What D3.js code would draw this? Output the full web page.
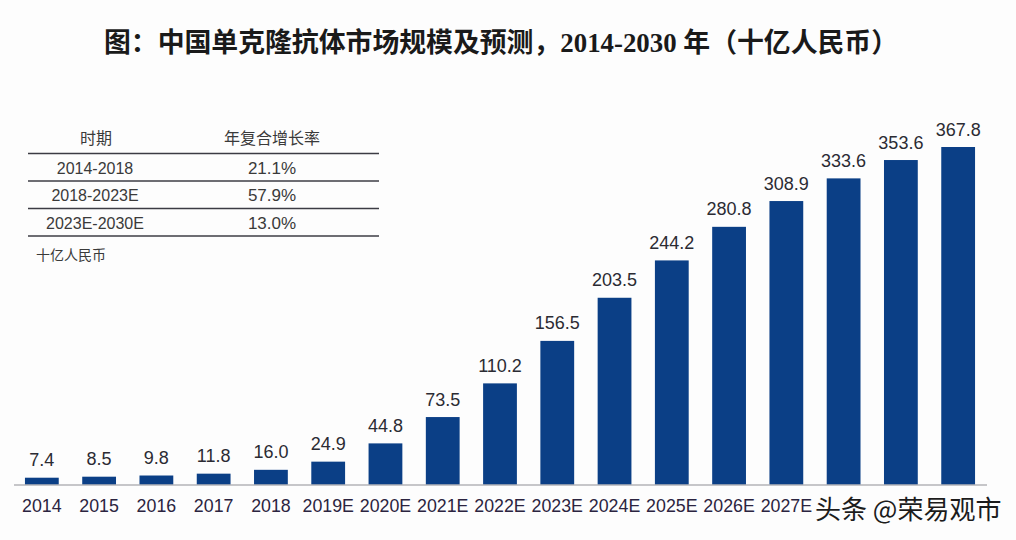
<!DOCTYPE html>
<html><head><meta charset="utf-8">
<script src="https://cdn.jsdelivr.net/npm/d3@7/dist/d3.min.js"></script>
<style>html,body{margin:0;background:#fdfdfd}svg{display:block}</style>
</head><body><svg id="c" width="1016" height="540"></svg>
<script>
const categories=["2014","2015","2016","2017","2018","2019E","2020E","2021E","2022E","2023E","2024E","2025E","2026E","2027E","2028E","2029E","2030E"];
const visibleTicks=["2014","2015","2016","2017","2018","2019E","2020E","2021E","2022E","2023E","2024E","2025E","2026E","2027E"];
const values=[7.4,8.5,9.8,11.8,16.0,24.9,44.8,73.5,110.2,156.5,203.5,244.2,280.8,308.9,333.6,353.6,367.8];
const valueLabels=["7.4","8.5","9.8","11.8","16.0","24.9","44.8","73.5","110.2","156.5","203.5","244.2","280.8","308.9","333.6","353.6","367.8"];
const tableHead=["时期","年复合增长率"];
const tablePeriods=["2014-2018","2018-2023E","2023E-2030E"];
const tableRates=["21.1%","57.9%","13.0%"];
const titleText="图：中国单克隆抗体市场规模及预测，2014-2030 年（十亿人民币）";
const unitText="十亿人民币";
const watermark="头条 @荣易观市";

const svg=d3.select("#c");
const sans="'Liberation Sans','Noto Sans CJK SC',sans-serif";
const x=d3.scaleBand().domain(categories).range([13.5,986.5]).paddingInner(0.41).paddingOuter(0.2);
const y=d3.scaleLinear().domain([0,367.8]).range([484.5,147]);

svg.append("text").attr("x",501).attr("y",52).attr("text-anchor","middle")
 .attr("font-family","'Liberation Serif','Noto Sans CJK SC',serif").attr("font-weight",700)
 .attr("font-size",26.85).attr("fill","#1a1a1a").text(titleText);

svg.append("g").selectAll("rect").data(values).join("rect")
 .attr("x",(d,i)=>x(categories[i])).attr("width",x.bandwidth())
 .attr("y",d=>y(d)).attr("height",d=>y(0)-y(d)).attr("fill","#0b3f86");

svg.append("g").selectAll("text").data(valueLabels).join("text")
 .attr("x",(d,i)=>x(categories[i])+x.bandwidth()/2)
 .attr("y",(d,i)=>y(values[i])-11.5)
 .attr("text-anchor","middle").attr("font-family",sans).attr("font-size",18)
 .attr("fill","#2b2b33").text(d=>d);

const ax=svg.append("g").attr("transform","translate(0,484.5)")
 .call(d3.axisBottom(x).tickValues(visibleTicks).tickSize(0).tickPadding(15));
ax.select(".domain").attr("stroke","#8f8f96").attr("stroke-width",1.2);
ax.selectAll("text").attr("font-family",sans).attr("font-size",17.8).attr("fill","#2b2440");

// table
const tY=d3.scalePoint().domain(d3.range(4)).range([153.5,236]);
const lineX=[28,379], colA=96, colB=272;
svg.append("g").selectAll("line").data(d3.range(4)).join("line")
 .attr("x1",lineX[0]).attr("x2",lineX[1]).attr("y1",d=>tY(d)).attr("y2",d=>tY(d))
 .attr("stroke","#3c3c44").attr("stroke-width",1.4);
const tf=(sel)=>sel.attr("text-anchor","middle").attr("font-family",sans).attr("fill","#3a3a3a");
tf(svg.append("text")).attr("x",colA).attr("y",144).attr("font-size",16).text(tableHead[0]);
tf(svg.append("text")).attr("x",colB).attr("y",144).attr("font-size",16).text(tableHead[1]);
tablePeriods.forEach((p,i)=>{
  tf(svg.append("text")).attr("x",colA-1).attr("y",tY(i)+20).attr("font-size",16).text(p);
  tf(svg.append("text")).attr("x",colB).attr("y",tY(i)+20).attr("font-size",17).text(tableRates[i]);
});
svg.append("text").attr("x",36).attr("y",260).attr("font-family",sans).attr("font-size",14)
 .attr("fill","#3a3a3a").text(unitText);

// watermark
svg.append("text").attr("x",815).attr("y",519).attr("font-family","'Noto Sans CJK SC',sans-serif")
 .attr("font-size",26).attr("fill","#1c1c1c").attr("stroke","#fff").attr("stroke-width",1)
 .attr("paint-order","stroke").text(watermark);
</script></body></html>
